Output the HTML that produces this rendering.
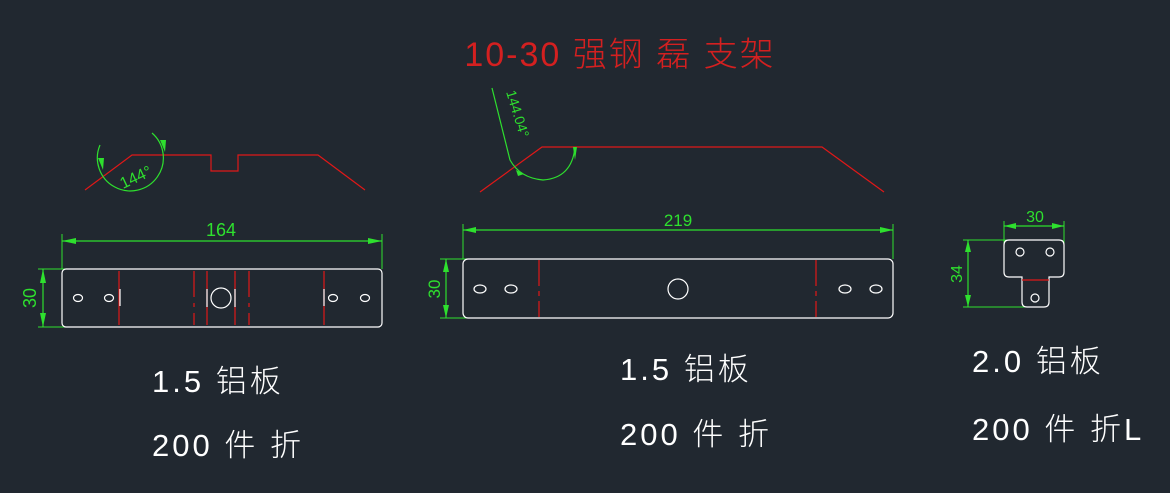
<!DOCTYPE html>
<html><head><meta charset="utf-8"><style>
html,body{margin:0;padding:0;background:#212830;}
svg{display:block}
text{font-family:"Liberation Sans","Noto Sans CJK SC",sans-serif;}
</style></head><body>
<svg width="1170" height="493" viewBox="0 0 1170 493" xmlns="http://www.w3.org/2000/svg">
<rect width="1170" height="493" fill="#212830"/>
<text x="620" y="66" fill="#d42020" font-size="34" text-anchor="middle" font-weight="300" letter-spacing="2">10-30 强钢 磊 支架</text>

<!-- Panel 1 -->
<polyline points="85,190 132,155 211,155 211,171 238,171 238,155 318,155 365,190" fill="none" stroke="#e01818" stroke-width="1.2"/>
<path d="M100,145 A33,33 0 1 0 152,133" fill="none" stroke="#2ee02e" stroke-width="1.2"/>
<polygon points="98,158 104,158 103,170" fill="#2ee02e"/>
<polygon points="160,140 166,140 165,152" fill="#2ee02e"/>
<text x="138" y="182" fill="#2ee02e" font-size="16" transform="rotate(-25 138 182)" text-anchor="middle">144°</text>
<line x1="62" y1="241" x2="382" y2="241" stroke="#2ee02e" stroke-width="1.2"/>
<line x1="62" y1="234" x2="62" y2="269" stroke="#2ee02e"/>
<line x1="382" y1="234" x2="382" y2="269" stroke="#2ee02e"/>
<polygon points="62,241 76,238 76,244" fill="#2ee02e"/><polygon points="382,241 368,238 368,244" fill="#2ee02e"/>
<text x="221" y="236" fill="#2ee02e" font-size="18" text-anchor="middle">164</text>
<line x1="43" y1="269" x2="43" y2="327" stroke="#2ee02e" stroke-width="1.2"/>
<line x1="38" y1="269" x2="72" y2="269" stroke="#2ee02e"/><line x1="38" y1="327" x2="72" y2="327" stroke="#2ee02e"/>
<polygon points="43,269 40,283 46,283" fill="#2ee02e"/><polygon points="43,327 40,313 46,313" fill="#2ee02e"/>
<text x="36" y="298" fill="#2ee02e" font-size="18" text-anchor="middle" transform="rotate(-90 36 298)">30</text>
<rect x="62" y="269" width="320" height="58" rx="4" fill="none" stroke="#fff" stroke-width="1.2"/>
<g stroke="#e01818" stroke-width="1.2">
<line x1="119" y1="271" x2="119" y2="325"/><line x1="194" y1="271" x2="194" y2="325" stroke-dasharray="26 6 4 6"/><line x1="249" y1="271" x2="249" y2="325" stroke-dasharray="26 6 4 6"/><line x1="324" y1="271" x2="324" y2="325"/>
<line x1="207" y1="271" x2="207" y2="325"/><line x1="235" y1="271" x2="235" y2="325"/>
</g>
<g stroke="#fff" stroke-width="1.2" fill="none">
<ellipse cx="78" cy="298" rx="4.5" ry="3.5"/><ellipse cx="109" cy="298" rx="4.5" ry="3.5"/>
<ellipse cx="333" cy="298" rx="4.5" ry="3.5"/><ellipse cx="365" cy="298" rx="4.5" ry="3.5"/>
<circle cx="221" cy="298" r="10"/>
<line x1="120" y1="289" x2="120" y2="306"/><line x1="207" y1="289" x2="207" y2="307"/><line x1="235" y1="289" x2="235" y2="307"/><line x1="324" y1="289" x2="324" y2="306"/>
</g>

<!-- Panel 2 -->
<polyline points="480,192 542,147 822,147 884,192" fill="none" stroke="#e01818" stroke-width="1.2"/>
<path d="M492,88 L510,160 Q520,178 543,180 Q572,178 575,147" fill="none" stroke="#2ee02e" stroke-width="1.2"/>
<polygon points="573,147 577,147 575,160" fill="#2ee02e"/>
<polygon points="516,170 524,174 518,176" fill="#2ee02e"/>
<text x="506" y="92" fill="#2ee02e" font-size="14" transform="rotate(73 506 92)">144.04°</text>
<line x1="463" y1="230" x2="893" y2="230" stroke="#2ee02e" stroke-width="1.2"/>
<line x1="463" y1="224" x2="463" y2="259" stroke="#2ee02e"/><line x1="893" y1="224" x2="893" y2="259" stroke="#2ee02e"/>
<polygon points="463,230 476,227 476,233" fill="#2ee02e"/><polygon points="893,230 880,227 880,233" fill="#2ee02e"/>
<text x="678" y="226" fill="#2ee02e" font-size="17" text-anchor="middle">219</text>
<line x1="446" y1="259" x2="446" y2="318" stroke="#2ee02e" stroke-width="1.2"/>
<line x1="440" y1="259" x2="482" y2="259" stroke="#2ee02e"/><line x1="440" y1="318" x2="482" y2="318" stroke="#2ee02e"/>
<polygon points="446,259 443,272 449,272" fill="#2ee02e"/><polygon points="446,318 443,305 449,305" fill="#2ee02e"/>
<text x="440" y="289" fill="#2ee02e" font-size="17" text-anchor="middle" transform="rotate(-90 440 289)">30</text>
<rect x="463" y="259" width="430" height="59" rx="5" fill="none" stroke="#fff" stroke-width="1.2"/>
<g stroke="#e01818" stroke-width="1.2"><line x1="539" y1="260" x2="539" y2="317" stroke-dasharray="26 5 5 5"/><line x1="816" y1="260" x2="816" y2="317" stroke-dasharray="26 5 5 5"/></g>
<g stroke="#fff" stroke-width="1.2" fill="none">
<ellipse cx="480" cy="289" rx="6" ry="4"/><ellipse cx="511" cy="289" rx="6" ry="4"/>
<ellipse cx="845" cy="289" rx="6" ry="4"/><ellipse cx="876" cy="289" rx="6" ry="4"/>
<circle cx="678" cy="289" r="10"/>
</g>

<!-- Panel 3 -->
<line x1="1004" y1="226" x2="1064" y2="226" stroke="#2ee02e" stroke-width="1.2"/>
<line x1="1004" y1="221" x2="1004" y2="258" stroke="#2ee02e"/><line x1="1064" y1="221" x2="1064" y2="258" stroke="#2ee02e"/>
<polygon points="1004,226 1016,223 1016,229" fill="#2ee02e"/><polygon points="1064,226 1052,223 1052,229" fill="#2ee02e"/>
<text x="1035" y="222" fill="#2ee02e" font-size="16" text-anchor="middle">30</text>
<line x1="968" y1="240" x2="968" y2="307" stroke="#2ee02e" stroke-width="1.2"/>
<line x1="963" y1="240" x2="1008" y2="240" stroke="#2ee02e"/><line x1="963" y1="307" x2="1030" y2="307" stroke="#2ee02e"/>
<polygon points="968,240 965,252 971,252" fill="#2ee02e"/><polygon points="968,307 965,295 971,295" fill="#2ee02e"/>
<text x="962" y="274" fill="#2ee02e" font-size="16" text-anchor="middle" transform="rotate(-90 962 274)">34</text>
<path d="M1009,240 L1059,240 Q1064,240 1064,245 L1064,272 Q1064,277 1059,277 L1049,277 L1049,302 Q1049,307 1044,307 L1027,307 Q1022,307 1022,302 L1022,277 L1009,277 Q1004,277 1004,272 L1004,245 Q1004,240 1009,240 Z" fill="none" stroke="#fff" stroke-width="1.2"/>
<line x1="1022" y1="280" x2="1049" y2="280" stroke="#e01818" stroke-width="1.2"/>
<g stroke="#fff" stroke-width="1.2" fill="none"><circle cx="1020" cy="252" r="4"/><circle cx="1050" cy="252" r="4"/><circle cx="1035" cy="298" r="4"/></g>

<!-- labels -->
<g fill="#fff" font-size="31" font-weight="300" letter-spacing="3">
<text x="152" y="392">1.5 铝板</text>
<text x="152" y="456">200 件 折</text>
<text x="620" y="380">1.5 铝板</text>
<text x="620" y="445">200 件 折</text>
<text x="972" y="372">2.0 铝板</text>
<text x="972" y="440">200 件 折L</text>
</g>
</svg>
</body></html>
